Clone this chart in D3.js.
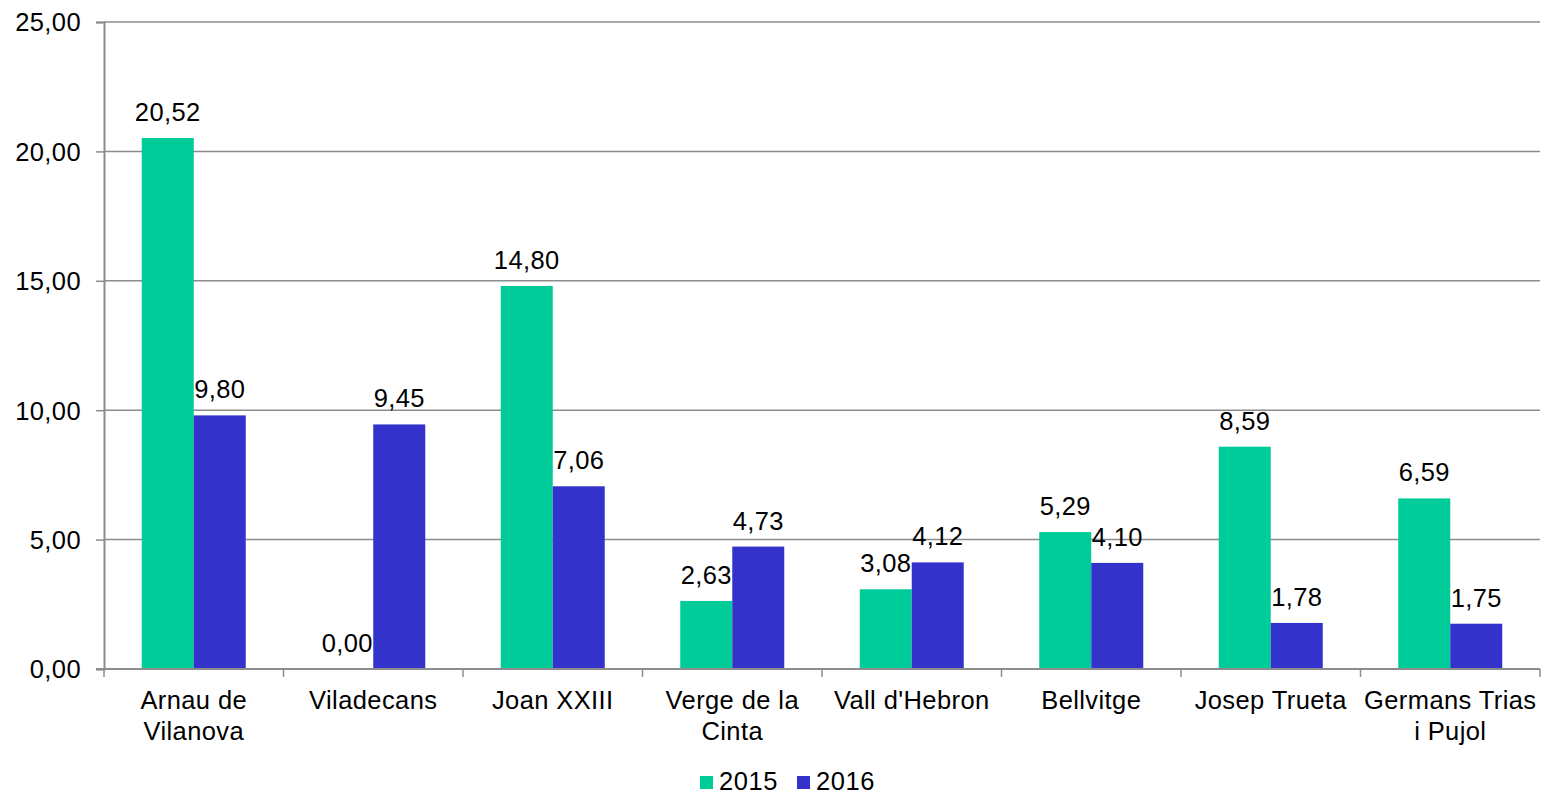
<!DOCTYPE html>
<html>
<head>
<meta charset="utf-8">
<script src="https://cdn.jsdelivr.net/npm/d3@7"></script>
<style>
  body { margin: 0; background: #fff; }
  svg text { font-family: "Liberation Sans", Arial, sans-serif; fill: #000; }
</style>
</head>
<body>
<div id="chart"></div>
<script>
(function (d3) {
    'use strict';
    // data
    var categories = ["Arnau de\nVilanova", "Viladecans", "Joan XXIII", "Verge de la\nCinta",
        "Vall d'Hebron", "Bellvitge", "Josep Trueta", "Germans Trias\ni Pujol"];
    var series = ["2015", "2016"];
    var values2015 = [20.52, 0.00, 14.80, 2.63, 3.08, 5.29, 8.59, 6.59];
    var values2016 = [9.80, 9.45, 7.06, 4.73, 4.12, 4.10, 1.78, 1.75];
    var yTicks = [0, 5, 10, 15, 20, 25];
    var colors = ["#00cc99", "#3333cc"];

    var svgWidth = 1543;
    var svgHeight = 796;
    var margin = { top: 22, right: 3, bottom: 127, left: 104 };
    var width = svgWidth - margin.left - margin.right;
    var height = svgHeight - margin.top - margin.bottom;
    var fontSize = "25.5px";

    var fmt = function (v) { return d3.format(".2f")(v).replace(".", ","); };

    var svg = d3.select("#chart")
        .append("svg")
        .attr("width", svgWidth)
        .attr("height", svgHeight)
        .append("g")
        .attr("transform", "translate(" + margin.left + "," + margin.top + ")");

    var x = d3.scaleBand().domain(categories).range([0, width]);
    var x1 = d3.scaleBand().domain(series).range([0, 104]);
    var y = d3.scaleLinear().domain([0, 25]).range([height, 0]);

    // gridlines
    svg.append("g")
        .selectAll("line")
        .data(yTicks.slice(1))
        .enter()
        .append("line")
        .attr("x1", 0)
        .attr("x2", width)
        .attr("y1", function (d) { return y(d); })
        .attr("y2", function (d) { return y(d); })
        .attr("stroke", "#8c8c8c")
        .attr("stroke-width", 1.5);

    // y axis
    var yAxis = svg.append("g")
        .call(d3.axisLeft(y).tickValues(yTicks).tickSize(8).tickFormat(fmt));
    yAxis.select(".domain").attr("stroke", "#8c8c8c").attr("stroke-width", 2);
    yAxis.selectAll(".tick line").attr("stroke", "#8c8c8c").attr("stroke-width", 1.5);
    yAxis.selectAll(".tick text")
        .attr("x", -23)
        .attr("dy", "0.35em")
        .style("font-size", fontSize)
        .style("letter-spacing", "0.4px")
        .style("font-family", "Liberation Sans, Arial, sans-serif");

    // bars
    var rows = categories.map(function (c, i) {
        return { cat: c, vals: [values2015[i], values2016[i]] };
    });

    var groups = svg.selectAll(".grp")
        .data(rows)
        .enter()
        .append("g")
        .attr("class", "grp")
        .attr("transform", function (d) {
            return "translate(" + (x(d.cat) + (x.bandwidth() - 104) / 2) + ",0)";
        });

    groups.selectAll("rect")
        .data(function (d) { return d.vals.map(function (v, j) { return { s: series[j], v: v, j: j }; }); })
        .enter()
        .append("rect")
        .attr("x", function (d) { return x1(d.s); })
        .attr("y", function (d) { return y(d.v); })
        .attr("width", x1.bandwidth())
        .attr("height", function (d) { return height - y(d.v); })
        .style("fill", function (d) { return colors[d.j]; });

    groups.selectAll(".lbl")
        .data(function (d) { return d.vals.map(function (v, j) { return { s: series[j], v: v }; }); })
        .enter()
        .append("text")
        .attr("class", "lbl")
        .attr("x", function (d) { return x1(d.s) + x1.bandwidth() / 2; })
        .attr("y", function (d) { return y(d.v) - 17; })
        .attr("text-anchor", "middle")
        .style("font-size", fontSize)
        .style("letter-spacing", "0.4px")
        .text(function (d) { return fmt(d.v); });

    // x axis
    var xAxis = svg.append("g")
        .attr("transform", "translate(0," + height + ")");
    xAxis.append("line")
        .attr("x1", -8).attr("x2", width)
        .attr("stroke", "#8c8c8c").attr("stroke-width", 2);
    xAxis.selectAll(".tk")
        .data(categories.concat(["end"]))
        .enter()
        .append("line")
        .attr("x1", function (d, i) { return i < categories.length ? x(d) : width; })
        .attr("x2", function (d, i) { return i < categories.length ? x(d) : width; })
        .attr("y1", 0).attr("y2", 8)
        .attr("stroke", "#8c8c8c").attr("stroke-width", 1.5);

    var catText = xAxis.selectAll(".cat")
        .data(categories)
        .enter()
        .append("text")
        .attr("class", "cat")
        .attr("text-anchor", "middle")
        .attr("transform", function (d) { return "translate(" + (x(d) + x.bandwidth() / 2) + ",40)"; })
        .style("font-size", fontSize)
        .style("letter-spacing", "0.4px");
    catText.selectAll("tspan")
        .data(function (d) { return d.split("\n"); })
        .enter()
        .append("tspan")
        .attr("x", 0)
        .attr("dy", function (d, i) { return i === 0 ? 0 : 31; })
        .text(function (d) { return d; });

    // legend
    var legend = svg.append("g")
        .attr("transform", "translate(" + (700 - margin.left) + "," + (776 - margin.top) + ")");
    var legItems = legend.selectAll(".leg")
        .data(series)
        .enter()
        .append("g")
        .attr("transform", function (d, i) { return "translate(" + (i * 97) + ",0)"; });
    legItems.append("rect")
        .attr("width", 13).attr("height", 13)
        .style("fill", function (d, i) { return colors[i]; });
    legItems.append("text")
        .attr("x", 19).attr("y", 14)
        .style("font-size", fontSize)
        .style("letter-spacing", "0.6px")
        .text(function (d) { return d; });
})(window.d3);
</script>
</body>
</html>
